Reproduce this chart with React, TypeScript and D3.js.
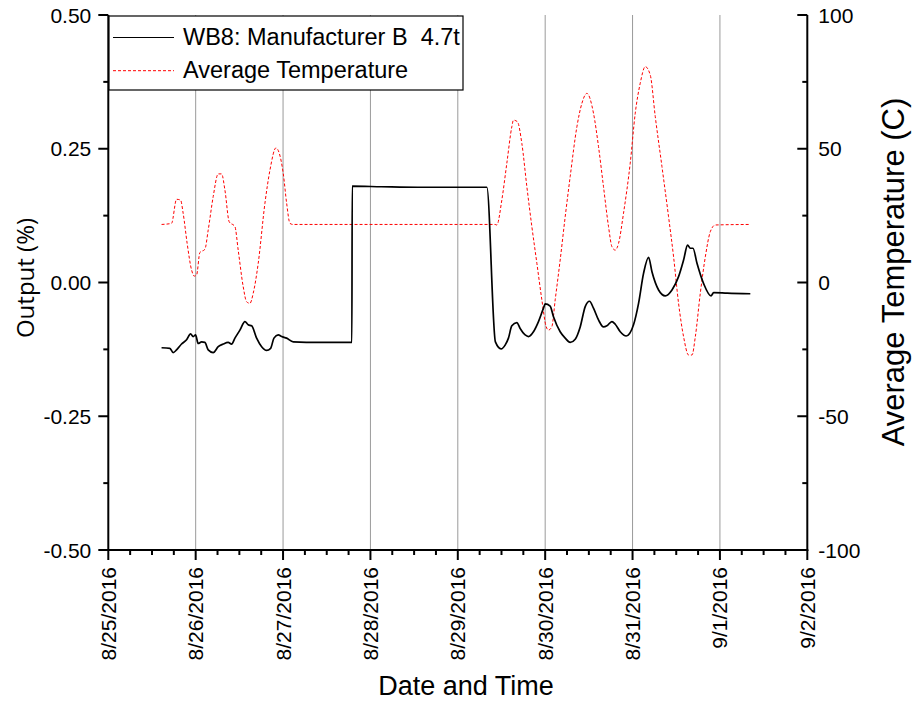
import React from "react";
import * as d3 from "d3";

// hours since 2016-08-25 00:00 and output (%)
const outHours = [14.63,16.91,17.81,18.75,20.12,21.5,22.6,23.31,23.97,24.69,25.62,26.53,27.44,28.81,30.19,31.56,32.93,33.87,34.78,36.15,37.53,38.43,39.37,40.74,42.12,43.49,44.59,45.5,46.68,47.61,48.99,50.8,58.0,66.9,67.0,75.0,85.0,95.0,103.97,106.33,107.9,109.0,109.91,110.84,112.22,113.13,114.5,115.41,116.78,118.16,119.53,120.0,121.37,122.28,124.12,125.5,126.87,128.25,129.62,131.0,132.18,133.27,134.65,136.02,136.96,138.33,139.24,140.62,142.26,144.27,145.65,147.02,148.4,149.33,151.15,152.99,154.83,156.64,158.02,159.12,159.86,160.6,161.7,163.52,165.55,166.27,170.0,176.35];
const outValues = [-0.122,-0.123,-0.131,-0.126,-0.115,-0.107,-0.096,-0.101,-0.098,-0.114,-0.111,-0.112,-0.126,-0.131,-0.12,-0.115,-0.112,-0.115,-0.104,-0.089,-0.073,-0.079,-0.081,-0.104,-0.12,-0.127,-0.123,-0.104,-0.098,-0.101,-0.104,-0.111,-0.112,-0.112,0.18,0.179,0.178,0.178,0.178,-0.111,-0.124,-0.117,-0.104,-0.081,-0.075,-0.086,-0.098,-0.101,-0.092,-0.073,-0.048,-0.04,-0.044,-0.064,-0.092,-0.104,-0.112,-0.106,-0.083,-0.045,-0.035,-0.048,-0.07,-0.083,-0.081,-0.073,-0.078,-0.092,-0.1,-0.079,-0.039,0.017,0.047,0.02,-0.014,-0.025,-0.014,0.011,0.042,0.07,0.064,0.064,0.036,-0.002,-0.025,-0.019,-0.02,-0.021];

// hours since 2016-08-25 00:00 and average temperature (C)
const tempHours = [14.63,17.37,18.75,19.85,20.56,21.66,22.87,23.59,24.25,25.15,26.53,27.44,28.81,30.19,31.12,32.03,33.21,34.78,35.68,37.06,37.99,38.9,39.81,41.18,43.02,44.4,46.05,48.05,48.99,49.9,50.72,106.25,106.72,108.09,109.47,110.84,111.28,112.38,113.59,114.97,116.34,117.72,119.09,120.27,120.91,121.84,122.75,124.12,125.5,126.87,128.71,130.09,131.46,133.27,134.65,136.02,137.4,138.33,139.24,140.15,141.52,143.36,144.74,146.11,147.49,148.86,150.24,152.08,153.89,155.27,156.64,158.02,159.39,160.33,161.24,162.61,163.99,165.36,166.73,176.35];
const tempValues = [21.7,22.1,31.1,30.8,25.9,14.6,4.7,2.4,2.8,11.2,12.4,19.6,32.1,40.6,40.6,34.6,22.7,20.9,12.1,-1.6,-7.2,-7.8,-4.0,7.2,29.6,42,50.3,40.8,29.6,22.1,21.7,21.7,21.5,30.8,44.6,58.2,60.7,60.1,52,35.8,20.9,7.2,-6.5,-16.5,-17.8,-16.5,-6.5,8.4,24.6,39.6,58.2,67,70.7,63.3,50.8,35.8,20.9,13.4,12.1,14.6,25.9,44.6,63.3,74.5,80.7,77.6,62,43.3,24.6,9.6,-7.8,-20.3,-27.1,-27.1,-20.3,-4.0,9.6,19,21.5,21.7];

const leftTicks = [-0.5, -0.25, 0, 0.25, 0.5];
const rightTicks = [-100, -50, 0, 50, 100];
const seriesNames = ["WB8: Manufacturer B  4.7t", "Average Temperature"];
const xTitle = "Date and Time";
const yLeftTitle = "Output (%)";
const yRightTitle = "Average Temperature (C)";

const start = new Date(2016, 7, 25);
const end = new Date(2016, 8, 2);
const toDate = (h: number) => new Date(start.getTime() + h * 3600e3);

export default function App() {
  const W = 914, H = 704;
  const L = 108.3, R = 807.3, T = 15, B = 550;
  const x = d3.scaleTime().domain([start, end]).range([L, R]);
  const yL = d3.scaleLinear().domain([-0.5, 0.5]).range([B, T]);
  const yR = d3.scaleLinear().domain([-100, 100]).range([B, T]);

  const outData = outHours.map((h, i) => [toDate(h), outValues[i]] as [Date, number]);
  const tempData = tempHours.map((h, i) => [toDate(h), tempValues[i]] as [Date, number]);

  const outLine = d3.line<[Date, number]>().x(d => x(d[0])).y(d => yL(d[1])).curve(d3.curveMonotoneX);
  const tempLine = d3.line<[Date, number]>().x(d => x(d[0])).y(d => yR(d[1])).curve(d3.curveMonotoneX);

  const dayTicks = x.ticks(d3.timeDay.every(1)!);
  const minorTicks = d3.timeHour.every(6)!.range(start, end).filter(d => d.getHours() !== 0);
  const fmt = d3.timeFormat("%-m/%-d/%Y");
  const leftMinor = d3.range(-0.375, 0.5, 0.25);
  const rightMinor = d3.range(-75, 100, 50);
  const font = "Arial, 'Liberation Sans', sans-serif";

  return (
    <svg width={W} height={H} style={{ position: "fixed", left: 0, top: 0, background: "#fff" }} fontFamily={font}>
      <rect width={W} height={H} fill="#fff" />
      {/* grid */}
      {dayTicks.filter(d => +d !== +start && +d !== +end).map((d, i) => (
        <line key={"g" + i} x1={x(d)} x2={x(d)} y1={T} y2={B} stroke="#9a9a9a" strokeWidth={1} />
      ))}
      {/* series */}
      <path d={tempLine(tempData)!} fill="none" stroke="#ff0000" strokeWidth={1} strokeDasharray="3,2" />
      <path d={outLine(outData)!} fill="none" stroke="#000" strokeWidth={1.7} />
      {/* axes */}
      <line x1={L} x2={L} y1={T} y2={B + 1} stroke="#000" strokeWidth={2} />
      <line x1={R} x2={R} y1={T} y2={B + 1} stroke="#000" strokeWidth={2} />
      <line x1={L - 1} x2={R + 1} y1={B} y2={B} stroke="#000" strokeWidth={2} />
      {dayTicks.map((d, i) => (
        <g key={"xt" + i}>
          <line x1={x(d)} x2={x(d)} y1={B} y2={B + 10} stroke="#000" strokeWidth={2} />
          <text transform={`translate(${x(d)},${B + 17}) rotate(-90)`} textAnchor="end" dy="0.36em" fontSize={21}>{fmt(d)}</text>
        </g>
      ))}
      {minorTicks.map((d, i) => (
        <line key={"xm" + i} x1={x(d)} x2={x(d)} y1={B} y2={B + 5} stroke="#000" strokeWidth={2} />
      ))}
      {leftTicks.map((v, i) => (
        <g key={"yl" + i}>
          <line x1={L - 10} x2={L} y1={yL(v)} y2={yL(v)} stroke="#000" strokeWidth={2} />
          <text x={L - 17} y={yL(v)} dy="0.36em" textAnchor="end" fontSize={21}>{v.toFixed(2)}</text>
        </g>
      ))}
      {leftMinor.map((v, i) => (
        <line key={"ylm" + i} x1={L - 5} x2={L} y1={yL(v)} y2={yL(v)} stroke="#000" strokeWidth={2} />
      ))}
      {rightTicks.map((v, i) => (
        <g key={"yr" + i}>
          <line x1={R - 10} x2={R} y1={yR(v)} y2={yR(v)} stroke="#000" strokeWidth={2} />
          <text x={R + 11} y={yR(v)} dy="0.36em" textAnchor="start" fontSize={21}>{String(v)}</text>
        </g>
      ))}
      {rightMinor.map((v, i) => (
        <line key={"yrm" + i} x1={R - 5} x2={R} y1={yR(v)} y2={yR(v)} stroke="#000" strokeWidth={2} />
      ))}
      {/* titles */}
      <text x={466} y={695} textAnchor="middle" fontSize={27}>{xTitle}</text>
      <text transform={`translate(34,${278}) rotate(-90)`} textAnchor="middle" fontSize={24} fontFamily="'Open Sans', sans-serif">{yLeftTitle}</text>
      <text transform={`translate(904,${272}) rotate(-90)`} textAnchor="middle" fontSize={31}>{yRightTitle}</text>
      {/* legend */}
      <rect x={109} y={16} width={354} height={74} fill="#fff" stroke="#000" strokeWidth={1.2} />
      <line x1={113} x2={174} y1={37.5} y2={37.5} stroke="#000" strokeWidth={1.2} />
      <line x1={113} x2={174} y1={70.7} y2={70.7} stroke="#ff0000" strokeWidth={1} strokeDasharray="3,2" />
      <text x={183} y={45} fontSize={23.5} style={{ whiteSpace: "pre" }}>{seriesNames[0]}</text>
      <text x={183} y={78.3} fontSize={23.5}>{seriesNames[1]}</text>
    </svg>
  );
}
